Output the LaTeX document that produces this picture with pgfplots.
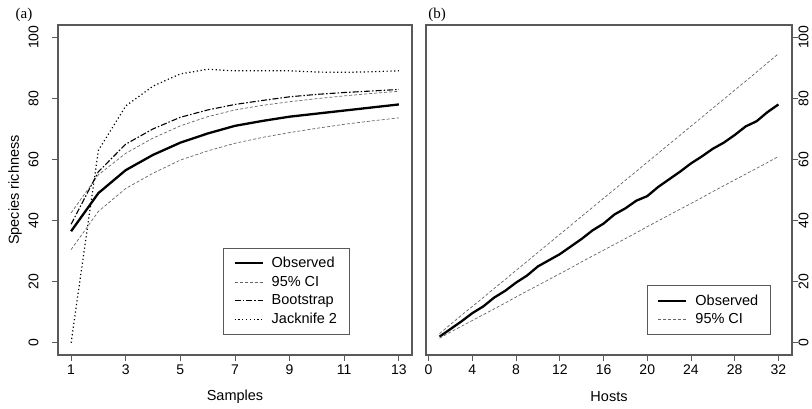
\documentclass[border=0pt]{standalone}
\usepackage{pgfplots}
\pgfplotsset{compat=1.18}
\usepackage{fontspec}
\setmainfont{Liberation Sans}
\newfontfamily\serifff{Liberation Serif}
\definecolor{axgray}{gray}{0.35}

\pgfplotsset{
  rstyle/.style={
    scale only axis,
    axis line style={axgray, line width=1.1pt},
    tick align=outside,
    major tick length=6pt,
    every tick/.style={axgray, line width=0.9pt},
    /pgf/number format/assume math mode=true,
    ticklabel style={font=\fontsize{14}{16}\selectfont},
    label style={font=\fontsize{14.5}{17}\selectfont},
    ymin=-4, ymax=104, ytick={0,20,...,100},
    xtick pos=left,
    legend cell align=left,
    legend style={draw=axgray, line width=0.9pt,
      nodes={font=\fontsize{14.5}{17}\selectfont},
      inner xsep=10pt, inner ysep=7pt, row sep=3pt, column sep=6pt},
    legend image code/.code={\draw[##1] (0pt,0pt) -- (28pt,0pt);},
  },
  obs/.style={black, line width=2.3pt},
  ci/.style={gray!80!black, line width=0.7pt, dash pattern=on 3pt off 2pt},
  boot/.style={black, line width=1.1pt, dash pattern=on 6pt off 2pt on 1.5pt off 2pt},
  jack/.style={black, line width=1.2pt, dash pattern=on 1.2pt off 2.6pt},
}

\begin{document}
\begin{tikzpicture}[x=1pt,y=1pt]
\begin{axis}[rstyle,
  at={(58pt,53pt)}, anchor=south west,
  width=354pt, height=330pt,
  xmin=0.52, xmax=13.48, xtick={1,3,...,13},
  ytick pos=left,
  yticklabel style={rotate=90, anchor=south, yshift=10pt},
  xlabel={Samples}, ylabel={Species richness},
  xlabel style={at={(axis description cs:0.5,-0.126)}, anchor=center},
  ylabel style={at={(axis description cs:-0.121,0.5)}, anchor=center},
  legend style={at={(axis description cs:0.466,0.061)}, anchor=south west},
]
\addplot[obs] coordinates {(1,36.5) (2,49) (3,56.5) (4,61.5) (5,65.5) (6,68.5) (7,71) (8,72.6) (9,74) (10,75) (11,76) (12,77) (13,78)};
\addlegendentry{Observed}
\addplot[ci] coordinates {(1,42.5) (2,55) (3,62) (4,67) (5,71) (6,74) (7,76.2) (8,77.7) (9,78.9) (10,79.9) (11,80.8) (12,81.6) (13,82.3)};
\addlegendentry{95\% CI}
\addplot[boot] coordinates {(1,38.8) (2,56) (3,65) (4,70) (5,73.8) (6,76.2) (7,78) (8,79.3) (9,80.5) (10,81.3) (11,81.9) (12,82.4) (13,82.9)};
\addlegendentry{Bootstrap}
\addplot[jack] coordinates {(1,0) (2,63) (3,77.5) (4,84) (5,88) (6,89.5) (7,89) (8,89) (9,89) (10,88.6) (11,88.5) (12,88.7) (13,89)};
\addlegendentry{Jacknife 2}
\addplot[ci, forget plot] coordinates {(1,30.5) (2,43) (3,50.5) (4,55.5) (5,59.8) (6,62.8) (7,65.3) (8,67.2) (9,68.8) (10,70.2) (11,71.5) (12,72.6) (13,73.6)};
\end{axis}

\begin{axis}[rstyle,
  at={(426pt,53pt)}, anchor=south west,
  width=366pt, height=330pt,
  xmin=-0.24, xmax=33.24, xtick={0,4,...,32},
  ytick pos=right, yticklabel pos=right,
  yticklabel style={rotate=90, anchor=north, yshift=3pt},
  xlabel={Hosts},
  xlabel style={at={(axis description cs:0.5,-0.126)}, anchor=center},
  legend style={at={(axis description cs:0.603,0.061)}, anchor=south west},
]
\addplot[obs] coordinates {(1,2) (2,4.5) (3,7) (4,9.7) (5,11.9) (6,14.8) (7,17) (8,19.7) (9,22) (10,25) (11,27) (12,29) (13,31.5) (14,34) (15,36.8) (16,39) (17,42) (18,44) (19,46.5) (20,48) (21,51) (22,53.5) (23,56) (24,58.7) (25,61) (26,63.5) (27,65.5) (28,68) (29,70.8) (30,72.5) (31,75.5) (32,78)};
\addlegendentry{Observed}
\addplot[ci] coordinates {(1,3) (2,6) (3,9) (4,11.9) (5,14.8) (6,17.8) (7,20.7) (8,23.7) (9,26.6) (10,29.6) (11,32.5) (12,35.5) (13,38.4) (14,41.4) (15,44.3) (16,47.3) (17,50.2) (18,53.2) (19,56.1) (20,59.1) (21,62) (22,65) (23,67.9) (24,70.9) (25,73.8) (26,76.8) (27,79.7) (28,82.7) (29,85.6) (30,88.6) (31,91.6) (32,94.6)};
\addlegendentry{95\% CI}
\addplot[ci, forget plot] coordinates {(1,1.5) (2,3.5) (3,5.4) (4,7.3) (5,9.2) (6,11.1) (7,13) (8,15) (9,16.9) (10,18.8) (11,20.7) (12,22.6) (13,24.5) (14,26.5) (15,28.4) (16,30.3) (17,32.2) (18,34.1) (19,36) (20,38) (21,39.9) (22,41.8) (23,43.7) (24,45.6) (25,47.5) (26,49.5) (27,51.4) (28,53.3) (29,55.2) (30,57.1) (31,59) (32,61)};
\end{axis}

\node[font=\serifff\fontsize{15}{18}\selectfont] at (24,393) {(a)};
\node[font=\serifff\fontsize{15}{18}\selectfont] at (437,393) {(b)};
\pgfresetboundingbox
\useasboundingbox (0,0) rectangle (812,408);
\end{tikzpicture}
\end{document}
